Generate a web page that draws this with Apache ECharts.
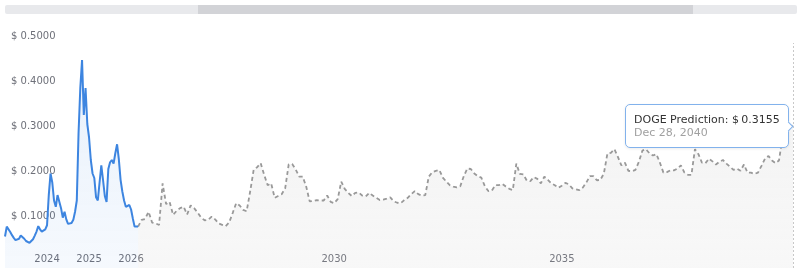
<!DOCTYPE html>
<html><head><meta charset="utf-8">
<script src="https://cdn.jsdelivr.net/npm/echarts@6/dist/echarts.min.js"></script>
<style>html,body{margin:0;padding:0;background:#fff}#c{width:800px;height:278px}</style>
</head><body><div id="c"></div>
<script>
// Historical DOGE price (semi-monthly, from Jan 2023)
const historyValues = [
 0.070,0.092,0.088,0.080,0.073,0.067,0.062,0.062,0.065,0.072,
 0.074,0.065,0.060,0.058,0.056,0.058,0.064,0.072,0.081,0.093,
 0.086,0.081,0.081,0.086,0.095,0.162,0.210,0.190,0.150,0.136,
 0.162,0.158,0.133,0.112,0.125,0.108,0.098,0.098,0.100,0.107,
 0.125,0.150,0.300,0.400,0.462,0.340,0.400,0.320,0.290,0.240,
 0.210,0.200,0.157,0.150,0.190,0.228,0.195,0.160,0.147,0.220,
 0.235,0.240,0.232,0.255,0.275,0.242,0.196,0.170,0.150,0.136,
 0.138,0.140,0.130,0.110,0.092,0.090,0.092
];
// Predicted DOGE price (starts at last historical point, ends Dec 28, 2040)
const forecastValues = [
 0.092,0.107,0.109,0.125,0.101,0.099,0.096,0.188,0.142,0.147,
 0.118,0.127,0.133,0.136,0.119,0.139,0.133,0.123,0.112,0.106,
 0.107,0.114,0.108,0.099,0.096,0.093,0.101,0.122,0.144,0.139,
 0.129,0.126,0.170,0.218,0.224,0.233,0.207,0.184,0.188,0.156,
 0.160,0.164,0.177,0.230,0.231,0.219,0.203,0.203,0.181,0.148,
 0.149,0.151,0.150,0.150,0.161,0.147,0.144,0.153,0.192,0.176,
 0.167,0.160,0.167,0.168,0.161,0.159,0.167,0.161,0.156,0.151,
 0.152,0.154,0.157,0.148,0.145,0.144,0.151,0.156,0.164,0.171,
 0.164,0.161,0.162,0.203,0.213,0.216,0.218,0.201,0.192,0.184,
 0.181,0.179,0.182,0.204,0.221,0.220,0.210,0.204,0.201,0.182,
 0.171,0.172,0.184,0.184,0.187,0.181,0.176,0.173,0.232,0.209,
 0.208,0.194,0.193,0.202,0.198,0.188,0.203,0.196,0.188,0.184,
 0.178,0.183,0.189,0.186,0.177,0.175,0.173,0.179,0.190,0.204,
 0.204,0.195,0.196,0.210,0.254,0.256,0.264,0.247,0.228,0.234,
 0.216,0.215,0.218,0.236,0.261,0.264,0.255,0.250,0.253,0.234,
 0.212,0.213,0.217,0.217,0.221,0.228,0.212,0.207,0.207,0.264,
 0.253,0.234,0.233,0.243,0.237,0.230,0.236,0.240,0.232,0.225,
 0.218,0.221,0.216,0.230,0.212,0.212,0.209,0.212,0.227,0.243,
 0.249,0.239,0.233,0.239,0.290,0.312,0.318,0.3155
];
const labelYears = ['2024', '2025', '2026', '2030', '2035'];
const yTicks = [0, 0.1, 0.2, 0.3, 0.4, 0.5];
const monthNames = ['Jan','Feb','Mar','Apr','May','Jun','Jul','Aug','Sep','Oct','Nov','Dec'];
// category date spans: [start, end, count, endInclusive]
const historyYears = [2023, 2024, 2025];
const forecastSpans = [
  ['2026-01-01', '2030-01-01', 116, false],
  ['2030-01-01', '2035-01-01', 130, false],
  ['2035-01-01', '2040-12-28', 133, true]
];

const iso = t => new Date(t).toISOString().slice(0, 10);
const dates = [];
historyYears.forEach(y => { for (let m = 0; m < 12; m++) { dates.push(iso(Date.UTC(y, m, 1))); dates.push(iso(Date.UTC(y, m, 16))); } });
forecastSpans.forEach(([a, b, n, incl]) => {
  const t0 = Date.parse(a), t1 = Date.parse(b), div = incl ? n - 1 : n;
  for (let i = 0; i < n; i++) dates.push(iso(t0 + (t1 - t0) * i / div));
});
const joinIdx = historyValues.length - 1;
const histData = historyValues.map((v, j) => [dates[j], v]);
const foreData = forecastValues.map((v, k) => [dates[joinIdx + 2 * k], v]);
const lastDate = foreData[foreData.length - 1][0];
const lastValue = forecastValues[forecastValues.length - 1];
const fmtDate = s => { const [y, m, d] = s.split('-'); return monthNames[+m - 1] + ' ' + (+d) + ', ' + y; };

const chart = echarts.init(document.getElementById('c'), null, { renderer: 'canvas' });
const FONT = 'DejaVu Sans';
chart.setOption({
  animation: false,
  textStyle: { fontFamily: FONT },
  grid: { left: 5, right: 7, top: 43, bottom: 10, containLabel: false },
  graphic: [
    { type: 'rect', shape: { x: 5, y: 5, width: 792, height: 9, r: 2 }, style: { fill: '#e8e9ec' }, silent: true },
    { type: 'rect', shape: { x: 198, y: 5, width: 495, height: 9 }, style: { fill: '#d2d3d7' }, silent: true }
  ],
  xAxis: {
    type: 'category', data: dates, boundaryGap: false,
    axisLine: { show: false }, axisTick: { show: false }, splitLine: { show: false },
    axisLabel: {
      inside: true, margin: 4, color: '#6e7079', fontSize: 10, fontFamily: FONT,
      interval: (i, v) => v.endsWith('-01-01') && labelYears.includes(v.slice(0, 4)),
      formatter: v => v.slice(0, 4)
    }
  },
  yAxis: {
    type: 'value', min: yTicks[0], max: yTicks[yTicks.length - 1], interval: yTicks[1] - yTicks[0],
    axisLine: { show: false }, axisTick: { show: false }, splitLine: { show: false },
    axisLabel: {
      inside: true, margin: 6, color: '#6e7079', fontSize: 10, fontFamily: FONT,
      verticalAlign: 'bottom', padding: [0, 0, 2, 0],
      formatter: v => v === 0 ? '' : '$ ' + v.toFixed(4)
    }
  },
  tooltip: {
    trigger: 'item', triggerOn: 'none', alwaysShowContent: true, transitionDuration: 0,
    backgroundColor: '#fff', borderColor: '#82b2ec', borderWidth: 1, borderRadius: 5,
    padding: [8, 8], textStyle: { color: '#333', fontSize: 11, fontFamily: FONT },
    extraCssText: 'box-shadow:0 1px 3px rgba(0,0,0,0.08);line-height:13px;',
    position: (point, params, dom, rect, size) => [point[0] - size.contentSize[0] - 4, point[1] - size.contentSize[1] / 2],
    formatter: () => '<div style="white-space:nowrap">DOGE Prediction: $\u2009' + lastValue.toFixed(4) + '</div>' +
      '<div style="color:#a0a0a0">' + fmtDate(lastDate) + '</div>' +
      '<div style="position:absolute;right:-4px;top:50%;margin-top:-3px;width:6px;height:6px;background:#fff;border-top:1px solid #82b2ec;border-right:1px solid #82b2ec;transform:rotate(45deg)"></div>'
  },
  series: [
    {
      name: 'DOGE Prediction', type: 'line', data: foreData, showSymbol: false, z: 2,
      lineStyle: { color: '#999', width: 1.8, type: [4, 3] },
      areaStyle: { color: new echarts.graphic.LinearGradient(0, 0, 0, 1, [
        { offset: 0, color: 'rgba(190,190,190,0.24)' }, { offset: 1, color: 'rgba(190,190,190,0.16)' }]) },
      markLine: {
        silent: true, symbol: ['none', 'none'], label: { show: false }, animation: false,
        lineStyle: { color: '#c8c8c8', type: [2, 2], width: 1 },
        data: [{ xAxis: lastDate }]
      }
    },
    {
      name: 'DOGE', type: 'line', data: histData, showSymbol: false, z: 3,
      lineStyle: { color: '#3d85e0', width: 2 },
      areaStyle: { color: new echarts.graphic.LinearGradient(0, 0, 0, 1, [
        { offset: 0, color: 'rgba(61,133,224,0.16)' }, { offset: 1, color: 'rgba(61,133,224,0.07)' }]) }
    },
    {
      name: 'anchor', type: 'scatter', data: [[lastDate, lastValue]], symbolSize: 2, z: 5,
      itemStyle: { color: 'rgba(0,0,0,0)' }
    }
  ]
});
chart.dispatchAction({ type: 'showTip', seriesIndex: 2, dataIndex: 0 });
setTimeout(() => chart.dispatchAction({ type: 'showTip', seriesIndex: 2, dataIndex: 0 }), 50);
</script></body></html>
